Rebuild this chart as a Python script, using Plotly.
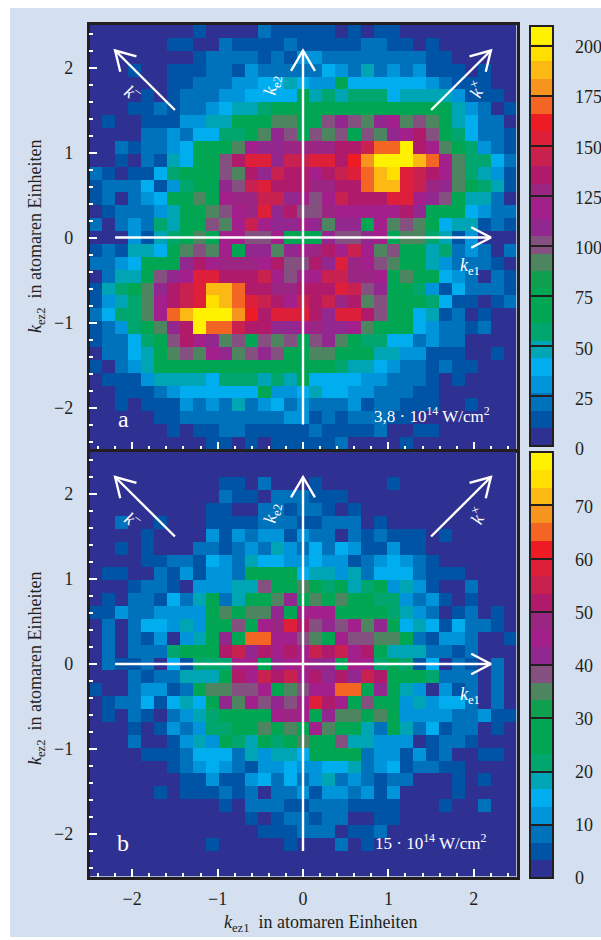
import plotly.graph_objects as go

# Counts per cell, top row first (k_ez2 = +2.5 downwards), left to right k_ez1 = -2.5 ... +2.5
counts_a = [
[4,4,4,4,4,4,4,4,13,4,4,4,4,22,13,13,13,13,13,4,13,4,13,13,4,4,4,4,4,4,4,4,4],
[4,4,4,4,4,4,13,13,4,4,22,13,13,13,13,22,13,13,13,13,13,22,22,13,13,4,13,4,4,4,4,4,4],
[4,4,4,4,4,4,4,4,13,22,22,22,22,13,22,13,31,31,22,22,22,22,22,22,22,22,13,13,4,4,4,4,4],
[4,4,4,13,4,4,13,13,13,22,22,13,31,22,22,22,22,22,39,31,22,48,22,31,22,31,13,13,13,4,13,4,4],
[4,4,4,4,4,4,13,13,22,22,22,31,31,39,39,48,39,31,31,74,39,39,39,39,39,39,31,22,13,13,13,4,4],
[4,4,4,4,13,4,13,22,22,22,31,31,39,39,39,39,74,48,57,48,57,57,57,39,48,48,48,48,31,13,13,13,4],
[4,4,4,13,13,22,13,22,22,31,39,48,48,57,74,74,74,74,74,74,74,74,74,74,74,74,74,74,48,31,22,4,13],
[4,13,4,4,13,13,13,31,31,48,48,74,74,74,92,92,74,74,101,109,101,92,109,118,92,101,92,74,48,39,22,22,4],
[4,4,4,4,22,22,31,22,39,39,57,57,74,92,109,101,74,101,92,101,74,101,92,109,118,136,101,74,57,39,22,22,13],
[4,4,22,13,22,22,31,39,74,74,74,92,118,109,109,127,127,127,127,136,136,144,171,171,206,136,118,92,74,57,31,22,13],
[4,4,13,4,22,13,48,39,74,74,101,136,153,153,109,144,144,153,153,136,162,179,206,206,206,188,171,118,92,57,57,39,22],
[22,13,4,13,13,39,57,74,74,74,101,92,136,109,144,136,136,118,136,144,153,171,188,197,153,144,136,118,92,57,48,31,13],
[13,22,22,22,39,13,31,57,74,74,109,101,144,153,136,136,136,127,127,136,136,171,188,188,153,144,127,109,92,74,57,48,13],
[13,22,4,22,31,39,74,74,92,74,118,127,127,144,144,109,118,101,118,144,136,136,136,153,153,118,109,101,74,48,48,22,4],
[4,13,22,22,22,31,48,74,74,92,101,118,127,153,109,136,101,101,127,118,118,118,118,118,136,109,74,74,74,39,31,22,22],
[22,4,22,31,22,57,48,74,74,101,92,118,144,118,109,109,118,109,92,109,109,74,118,92,101,92,74,39,48,48,13,22,13],
[4,4,4,31,13,48,57,74,92,74,118,118,101,101,118,74,74,74,109,101,101,109,118,74,92,92,57,48,13,31,4,4,4],
[13,22,13,48,48,39,74,92,101,92,118,74,109,109,92,109,118,127,136,118,144,118,92,101,74,74,48,57,22,31,22,4,22],
[22,22,31,39,74,74,74,109,136,118,127,127,127,118,136,101,101,136,109,153,127,118,101,92,74,74,48,31,22,22,22,13,4],
[4,22,48,48,74,101,109,118,153,153,136,136,136,144,118,101,118,118,144,144,127,127,118,74,92,74,74,39,31,22,4,22,13],
[13,48,57,74,92,109,136,144,153,188,188,171,136,136,127,127,136,136,136,153,144,101,109,74,74,57,31,13,39,22,22,22,13],
[13,31,48,57,92,118,136,144,153,197,188,171,153,144,136,118,144,136,144,127,136,92,101,74,74,74,57,39,13,13,4,13,22],
[22,39,57,57,92,118,171,188,206,206,206,179,162,136,153,153,153,136,109,153,153,136,101,74,74,39,48,13,22,4,13,4,4],
[13,22,31,57,74,92,109,136,206,171,171,144,136,136,109,109,118,127,109,109,118,92,74,74,74,39,31,22,22,13,22,4,4],
[13,22,22,39,57,74,101,136,118,109,92,101,74,101,92,101,74,101,109,92,74,57,57,39,39,22,31,22,22,4,4,4,4],
[4,22,22,39,48,74,92,101,92,118,109,92,101,109,101,74,74,92,92,74,74,74,48,48,31,31,13,13,13,4,4,13,4],
[13,4,22,31,48,74,74,74,74,74,74,74,74,74,74,74,74,74,74,57,48,48,39,31,22,22,13,22,13,13,4,4,4],
[4,13,13,13,31,48,48,48,48,39,57,57,57,48,57,48,74,39,39,39,39,31,31,22,22,22,13,4,13,4,4,4,4],
[4,4,13,13,13,22,31,39,39,39,39,39,39,74,31,31,39,48,39,39,31,31,22,22,22,13,13,4,4,4,4,4,4],
[4,4,13,4,13,13,13,31,22,31,22,48,22,31,39,22,31,22,22,22,31,13,22,22,13,13,13,4,4,13,4,4,4],
[4,4,4,4,4,13,13,22,22,22,22,22,22,22,22,31,31,13,22,13,22,22,22,13,13,4,4,4,4,4,4,4,4],
[4,4,4,4,4,4,13,4,13,13,22,22,13,13,13,13,13,22,13,13,13,13,22,4,4,13,13,4,4,4,4,4,4],
[4,4,4,4,4,4,4,4,4,13,13,4,13,4,13,13,13,13,13,22,4,4,4,4,13,4,4,4,4,4,4,4,4],
]

counts_b = [
[2,2,2,2,2,2,2,2,2,2,2,2,2,2,2,2,2,2,2,2,2,2,2,2,2,2,2,2,2,2,2,2,2],
[2,2,2,2,2,2,2,2,2,2,2,2,2,2,2,2,2,2,2,2,2,2,2,2,2,2,2,2,2,2,2,2,2],
[2,2,2,2,2,2,2,2,2,2,5,5,2,8,2,2,2,5,2,2,2,2,2,5,2,2,2,2,2,2,2,2,2],
[2,2,2,2,2,2,2,2,2,2,8,5,5,2,8,8,8,5,5,5,2,2,2,2,2,2,2,2,2,2,2,2,2],
[2,2,2,2,2,2,2,2,2,5,5,2,2,8,8,5,8,8,5,2,5,2,2,2,2,2,2,2,2,2,2,2,2],
[2,2,8,2,2,5,2,2,2,5,5,5,5,8,8,8,5,5,8,8,8,2,5,2,2,2,2,2,2,2,2,2,2],
[2,2,2,2,5,2,2,2,2,12,5,12,8,12,12,5,12,8,8,2,8,5,8,5,5,5,2,5,2,2,2,2,2],
[2,2,5,2,5,2,2,2,8,8,5,8,12,8,18,12,8,15,8,15,12,5,5,12,5,5,2,2,2,2,2,2,2],
[2,2,2,2,5,5,8,8,5,15,12,8,18,15,15,12,12,15,12,12,5,8,12,15,12,8,5,2,2,2,2,2,2],
[2,5,5,2,2,8,5,12,5,12,12,8,28,28,28,28,15,18,18,12,18,8,15,15,15,8,5,5,5,2,2,2,2],
[2,2,2,5,8,8,5,2,12,12,12,18,18,38,28,28,35,28,22,28,18,22,28,12,18,12,5,2,2,8,2,2,2],
[2,5,2,8,8,5,15,8,18,28,8,18,28,28,35,42,28,35,28,35,28,28,22,22,12,8,12,5,2,5,2,2,2],
[5,5,12,8,8,12,12,12,12,28,35,28,35,35,42,28,45,45,45,28,28,28,28,22,18,12,8,2,5,8,2,5,2],
[2,8,2,8,15,15,12,18,12,28,28,38,28,45,48,58,52,38,42,38,45,35,42,28,15,18,15,5,15,8,8,5,2],
[2,8,2,8,5,12,2,12,18,28,42,28,65,65,45,45,38,35,28,45,38,38,35,35,28,8,5,12,12,8,2,2,5],
[2,8,2,8,8,8,22,28,28,28,52,55,42,52,45,52,45,55,52,55,45,52,28,18,18,18,8,8,5,8,2,2,2],
[2,8,5,5,8,2,15,5,22,22,22,45,45,28,42,45,45,42,42,28,45,45,22,28,22,5,15,2,8,5,2,8,2],
[2,2,2,8,5,8,8,18,18,18,28,52,45,55,52,55,45,52,42,52,42,55,52,28,28,28,22,8,8,8,2,8,2],
[5,2,2,8,12,12,5,8,28,35,35,38,38,45,28,35,38,45,45,65,65,28,42,28,18,12,2,12,5,8,2,8,2],
[2,5,8,8,15,5,15,18,15,28,42,35,45,38,42,38,45,58,52,45,28,38,28,28,12,18,12,15,15,8,2,8,2],
[2,5,2,8,5,2,8,12,18,22,28,28,28,28,45,48,45,28,42,35,35,28,35,28,12,12,12,12,8,8,12,5,5],
[2,2,2,5,2,5,12,8,12,22,22,28,28,35,28,35,28,45,35,28,28,18,8,28,18,8,15,5,8,8,2,5,2],
[2,2,2,8,2,2,5,12,18,12,28,22,18,28,22,28,35,28,28,38,18,18,12,12,12,2,5,8,8,5,2,2,2],
[2,2,2,2,5,5,5,8,15,15,15,8,18,12,18,18,15,28,28,28,28,8,12,12,5,12,5,8,2,2,5,5,2],
[2,2,2,2,2,2,5,8,12,15,12,8,5,12,12,15,12,12,15,15,18,8,12,15,5,8,8,5,5,2,2,2,2],
[2,2,2,2,2,2,2,5,5,12,5,5,12,15,8,15,8,12,18,8,12,8,5,8,8,2,2,2,5,2,5,2,2],
[2,2,2,2,2,5,2,5,5,5,8,5,8,2,8,8,12,5,12,12,8,12,5,12,2,2,2,2,5,2,2,2,2],
[2,2,2,2,2,2,2,2,2,2,5,2,8,8,8,5,5,8,8,8,5,5,5,5,2,2,2,5,2,2,8,2,2],
[2,2,2,2,2,2,2,2,2,2,2,2,5,2,5,8,8,5,8,8,2,2,5,5,2,2,2,2,2,2,2,2,2],
[2,2,2,2,2,2,2,2,2,2,2,2,2,5,5,5,8,8,8,2,5,5,8,2,2,2,2,2,2,2,2,2,2],
[2,2,2,2,2,2,2,2,2,5,2,2,2,2,2,5,2,2,2,8,2,5,2,2,2,2,2,2,2,2,2,2,2],
[2,2,2,2,2,2,2,2,2,2,2,2,2,2,2,2,2,2,2,2,2,2,2,2,2,2,2,2,2,2,2,2,2],
[2,2,2,2,2,2,2,2,2,2,2,2,2,2,2,2,2,2,2,2,2,2,2,2,2,2,2,2,2,2,2,2,2],
]
assert len(counts_a) == 33 and len(counts_b) == 33
for i, r in enumerate(counts_a + counts_b):
    assert len(r) == 33, (i, len(r))

band_colors = ["#2e3192", "#0054a6", "#0072bc", "#0095da", "#00aeef", "#00a5b5", "#00a66e", "#00a651",
               "#00a651", "#0fa04f", "#4d8560", "#83507f", "#92278f", "#a3208c", "#9b2583", "#b01a6a",
               "#c8204f", "#dd1f3a", "#ed1c24", "#f26522", "#f7941d", "#fdb913", "#ffde00", "#fff200"]
ticks_a = [0, 25, 50, 75, 100, 125, 150, 175, 200]
ticks_b = [0, 10, 20, 30, 40, 50, 60, 70]
range_a = 210
range_b = 80
axis_ticks = [-2, -1, 0, 1, 2]

# axis-cross arrows (data units)
arrow_x = [-2.2, 2.2, None, 1.97, 2.2, 1.97, None, 0, 0, None, -0.14, 0, 0.14, None,
           -1.5, -2.2, None, -1.95, -2.2, -2.14, None, 1.5, 2.2, None, 1.95, 2.2, 2.14]
arrow_y = [0, 0, None, 0.12, 0, -0.12, None, -2.2, 2.2, None, 1.96, 2.2, 1.96, None,
           1.5, 2.2, None, 2.13, 2.2, 1.95, None, 1.5, 2.2, None, 2.13, 2.2, 1.95]

W, H = 601, 940
fx = lambda p: p / W
fy = lambda p: 1 - p / H
BG = "#d4e0f0"
INK = "#231f20"
FONT = "Liberation Serif"

scale = []
n = len(band_colors)
for i, c in enumerate(band_colors):
    scale += [[i / n, c], [(i + 1) / n, c]]

cells = [-2.5 + (i + 0.5) * 5 / 33 for i in range(33)]
fig = go.Figure()


def bar(top, bottom, vals):
    return dict(x=fx(530), xanchor="left", xpad=0, y=fy(top), yanchor="top", ypad=0,
                thickness=23, thicknessmode="pixels", len=(bottom - top) / H, lenmode="fraction",
                outlinecolor=INK, outlinewidth=2, tickvals=vals, ticks="inside", ticklen=23,
                tickcolor=INK, tickwidth=1.5, showticklabels=False)


fig.add_trace(go.Heatmap(z=counts_a[::-1], x=cells, y=cells, zmin=0, zmax=range_a, colorscale=scale,
                         colorbar=bar(26, 446, ticks_a), xaxis="x", yaxis="y"))
fig.add_trace(go.Heatmap(z=counts_b[::-1], x=cells, y=cells, zmin=0, zmax=range_b, colorscale=scale,
                         colorbar=bar(452, 878, ticks_b), xaxis="x2", yaxis="y2"))
for xa, ya in (("x", "y"), ("x2", "y2")):
    fig.add_trace(go.Scatter(x=arrow_x, y=arrow_y, mode="lines", xaxis=xa, yaxis=ya, showlegend=False,
                             line=dict(color="white", width=2.4), connectgaps=False))


def axis(**kw):
    base = dict(range=[-2.5, 2.5], tickvals=axis_ticks, ticks="inside", ticklen=8, tickwidth=1.5,
                tickcolor="white", showgrid=False, zeroline=False, showline=True, mirror=True,
                linecolor=INK, linewidth=2.5, ticklabelstandoff=10, automargin=False,
                minor=dict(dtick=0.2, ticks="inside", ticklen=4, tickwidth=1.5, tickcolor="white", showgrid=False),
                tickfont=dict(family=FONT, size=18, color=INK))
    base.update(kw)
    return base


dx = [fx(89.5), fx(516.5)]
fig.update_layout(
    width=W, height=H, margin=dict(l=0, r=0, t=0, b=0, autoexpand=False), paper_bgcolor="white",
    plot_bgcolor=band_colors[0], showlegend=False,
    xaxis=axis(domain=dx, anchor="y", showticklabels=False),
    yaxis=axis(domain=[fy(450), fy(25)], anchor="x", ticksuffix="\u2009"),
    xaxis2=axis(domain=dx, anchor="y2", ticklabelstandoff=4),
    yaxis2=axis(domain=[fy(876.5), fy(451.5)], anchor="x2", ticksuffix="\u2009"),
    shapes=[dict(type="rect", xref="paper", yref="paper", x0=fx(10), x1=1, y0=fy(937), y1=fy(8),
                 fillcolor=BG, line_width=0, layer="below")],
)


def note(text, x, y, size=17, color="white", angle=0, anchor="center"):
    fig.add_annotation(text=text, x=fx(x), y=fy(y), xref="paper", yref="paper", showarrow=False,
                       textangle=angle, font=dict(family=FONT, size=size, color=color),
                       xanchor=anchor, yanchor="middle", borderpad=0)


for dy, lab, tag, tag_x, tag_y in ((0, "a", "3,8 \u00b7 10<sup>14</sup> W/cm<sup>2</sup>", 432, 415),
                                   (426, "b", "15 \u00b7 10<sup>14</sup> W/cm<sup>2</sup>", 431, 842)):
    note("<i>k</i><sub>e1</sub>", 470, 266 + dy + 3 * (dy > 0), size=18)
    note("<i>k</i><sub>e2</sub>", 272, 85 + dy + 2 * (dy > 0), size=18, angle=-80)
    note("<i>k</i><sup>\u2013</sup>", 133, 92 + dy + 1 * (dy > 0), size=18, angle=35)
    note("<i>k</i><sup>\u00d7</sup>", 477, 90 + dy, size=18, angle=-65)
    note(lab, 123, 419 if dy == 0 else 843, size=24)
    note(tag, tag_x, tag_y, size=17)
    note("<i>k</i><sub>ez2</sub>  in atomaren Einheiten", 36, 237 if dy == 0 else 669, size=18, color=INK, angle=-90)

note("<i>k</i><sub>ez1</sub>  in atomaren Einheiten", 320, 923, size=18, color=INK)

# colour-bar value labels, set away from the bars as in the reference
for v in ticks_a:
    note(str(v), 574, 449 - v * 2.01, size=18, color=INK, anchor="left")
for v in ticks_b:
    note(str(v), 574, 878 - v * 5.3, size=18, color=INK, anchor="left")

fig.write_html(
    "out.html",
    default_width="601px",
    default_height="940px",
    config={"displayModeBar": False, "responsive": False},
    post_script="document.body.style.margin='0';document.body.style.overflow='hidden';"
                "Plotly.relayout('{plot_id}',{width:601,height:940});",
)
